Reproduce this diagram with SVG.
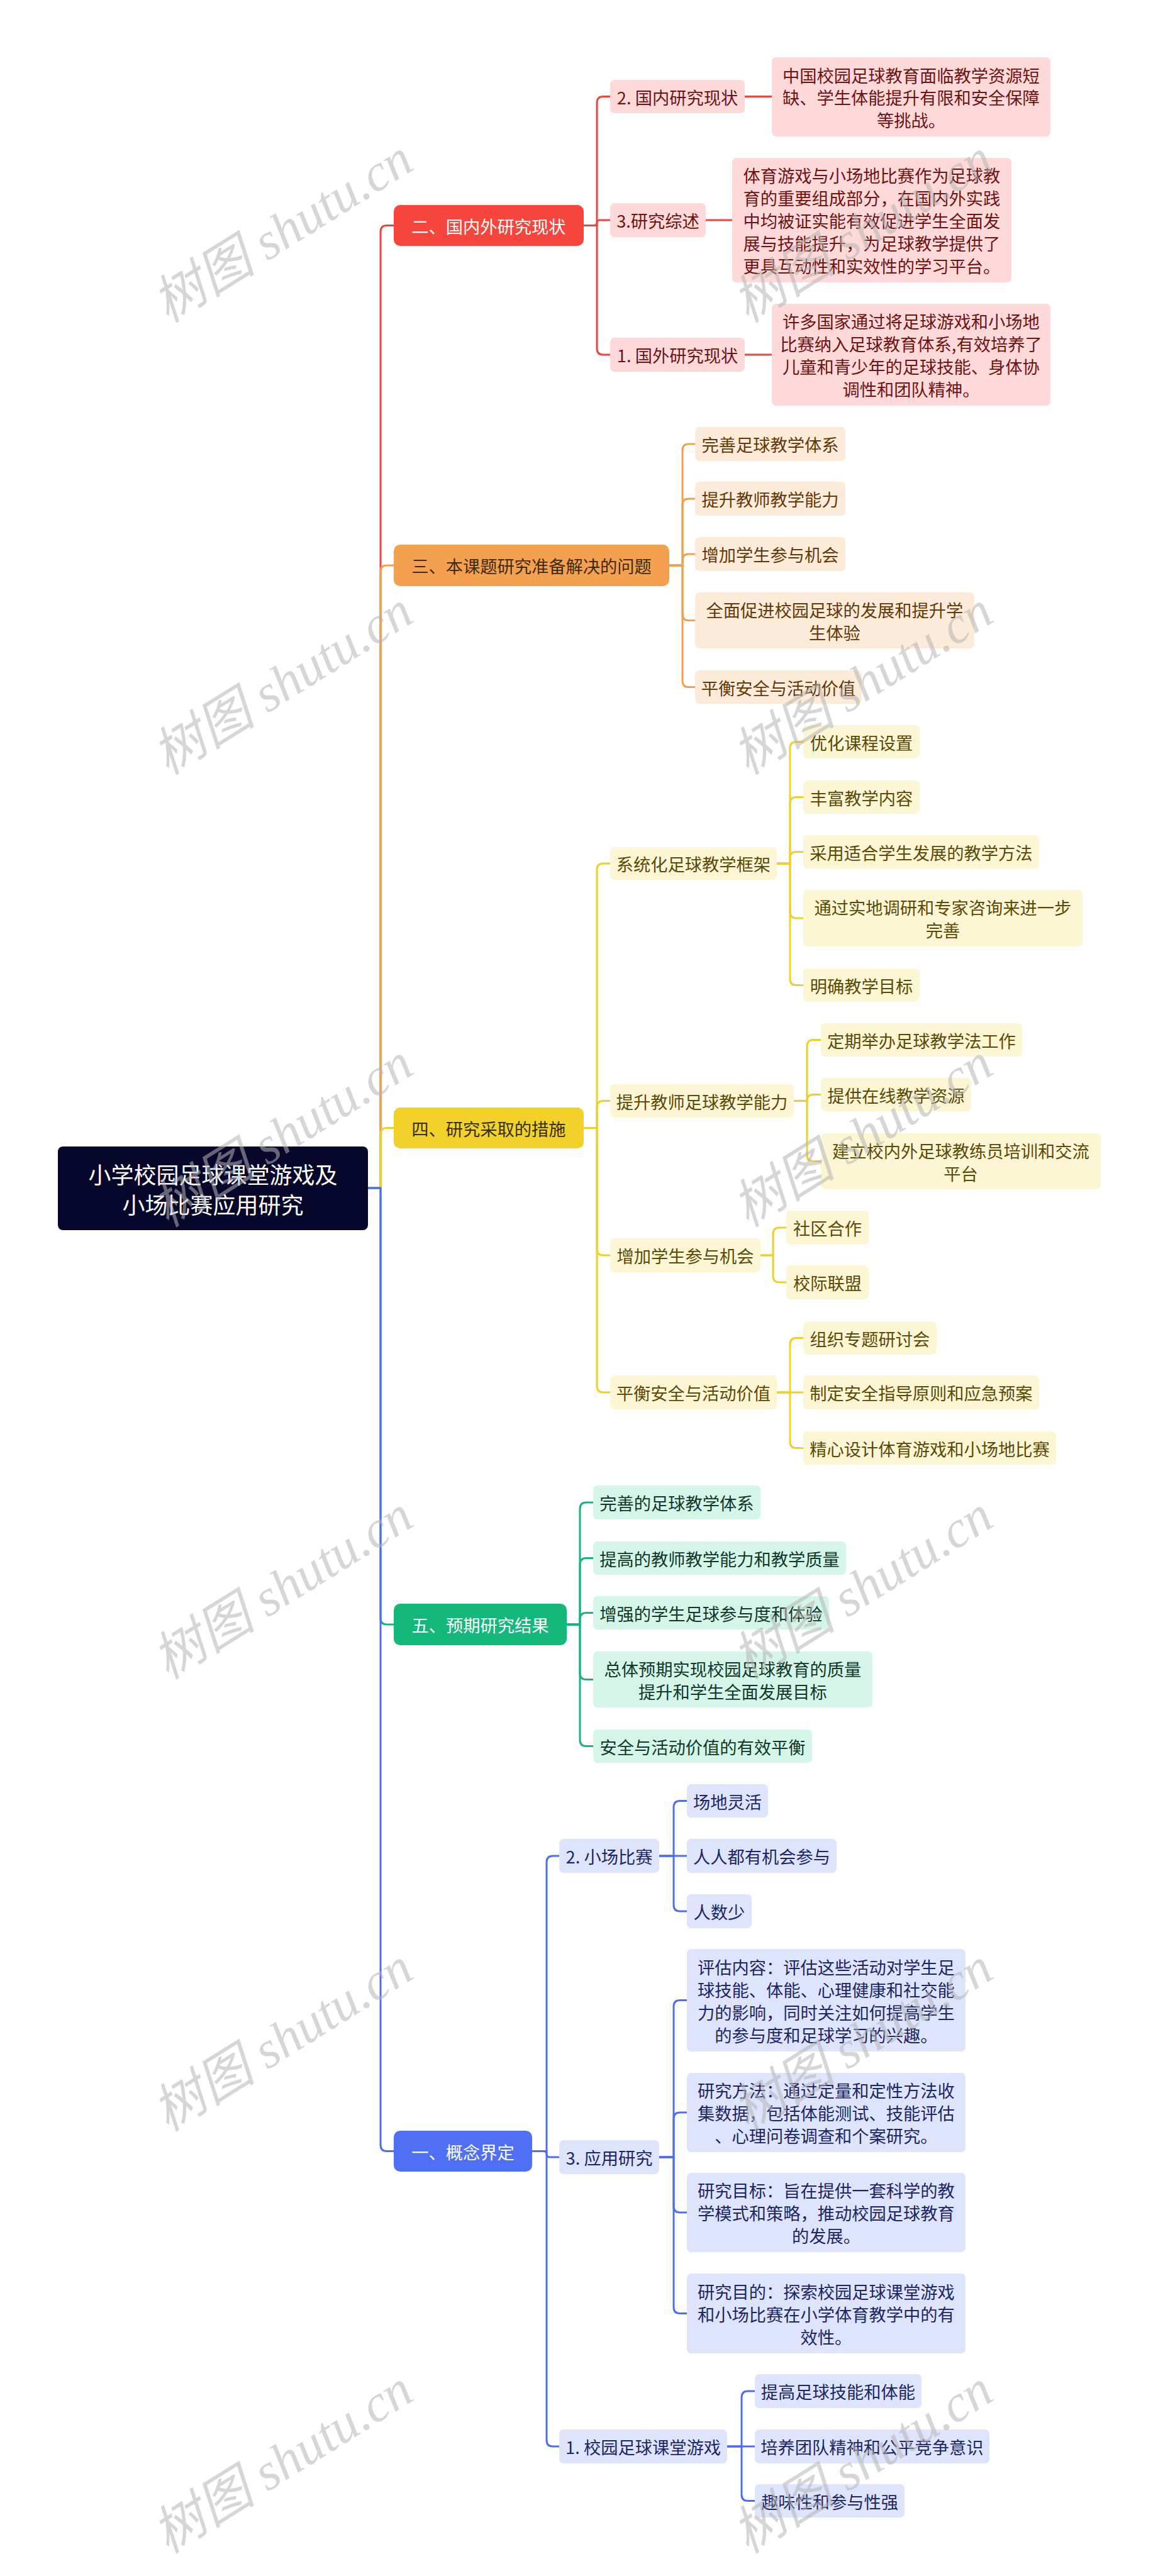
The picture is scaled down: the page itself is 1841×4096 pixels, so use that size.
<svg xmlns="http://www.w3.org/2000/svg" width="1841" height="4096" viewBox="0 0 1841 4096">
<style>
text,tspan{font-family:"Noto Sans CJK SC","Liberation Sans",sans-serif;font-size:27.25px;text-anchor:middle;dominant-baseline:central}
.root rect{fill:#07072b}.root text,.root tspan{fill:#fff;font-size:36px}
.mr rect{fill:#f5453d}.mr text{fill:#fff}
.cr rect{fill:#fdd9d9}.cr text{fill:#6e1212}
.mo rect{fill:#f4a14f}.mo text{fill:#3d2a12}
.co rect{fill:#fdebda}.co text{fill:#633808}
.my rect{fill:#f2d12b}.my text{fill:#36300a}
.cy rect{fill:#fdf6d5}.cy text{fill:#594a06}
.mg rect{fill:#14b87b}.mg text{fill:#fff}
.cg rect{fill:#d4f5e7}.cg text{fill:#10372a}
.mb rect{fill:#4f70f4}.mb text{fill:#fff}
.cb rect{fill:#dde4fc}.cb text{fill:#1c2566}
#connectors path{fill:none;stroke-width:3;stroke-linecap:round;stroke-linejoin:round}
.lr{stroke:#f0453f}.lo{stroke:#f2a04f}.ly{stroke:#f0cf2a}.lg{stroke:#17b57b}.lb{stroke:#4e6ef2}
.wm{font-family:"Liberation Serif","Noto Sans CJK SC",serif;font-style:italic;font-size:83px;fill:#b4b4b4;fill-opacity:0.55;text-anchor:middle;dominant-baseline:alphabetic}
</style>
<rect width="1841" height="4096" fill="#fff"/>
<g id="connectors">
<path class="lr" d="M585 1889 H605 V368.5 Q605 358.5 615 358.5 H626"/>
<path class="lo" d="M585 1889 H605 V909 Q605 899 615 899 H626"/>
<path class="ly" d="M585 1889 H605 V1803.5 Q605 1793.5 615 1793.5 H626"/>
<path class="lg" d="M585 1889 H605 V2573 Q605 2583 615 2583 H626"/>
<path class="lb" d="M585 1889 H605 V3410.5 Q605 3420.5 615 3420.5 H626"/>
<path class="lr" d="M928 358.5 H949 V163.5 Q949 153.5 959 153.5 H970"/>
<path class="lr" d="M928 358.5 H944 Q949 358.5 949 354 Q949 350 954 350 H970"/>
<path class="lr" d="M928 358.5 H949 V554 Q949 564 959 564 H970"/>
<path class="lr" d="M1184 153.5 H1227"/>
<path class="lr" d="M1122 350 H1164"/>
<path class="lr" d="M1184 564 H1227"/>
<path class="lo" d="M1064 899 H1085 V716 Q1085 706 1095 706 H1105"/>
<path class="lo" d="M1064 899 H1085 V803 Q1085 793 1095 793 H1105"/>
<path class="lo" d="M1064 899 H1085 V891 Q1085 881 1095 881 H1105"/>
<path class="lo" d="M1064 899 H1085 V976.5 Q1085 986.5 1095 986.5 H1105"/>
<path class="lo" d="M1064 899 H1085 V1082.5 Q1085 1092.5 1095 1092.5 H1105"/>
<path class="ly" d="M928 1793.5 H949 V1383 Q949 1373 959 1373 H970"/>
<path class="ly" d="M928 1793.5 H949 V1760.5 Q949 1750.5 959 1750.5 H970"/>
<path class="ly" d="M928 1793.5 H949 V1986 Q949 1996 959 1996 H970"/>
<path class="ly" d="M928 1793.5 H949 V2204 Q949 2214 959 2214 H970"/>
<path class="ly" d="M1235 1373 H1256 V1189.5 Q1256 1179.5 1266 1179.5 H1277"/>
<path class="ly" d="M1235 1373 H1256 V1277.5 Q1256 1267.5 1266 1267.5 H1277"/>
<path class="ly" d="M1235 1373 H1256 V1364.5 Q1256 1354.5 1266 1354.5 H1277"/>
<path class="ly" d="M1235 1373 H1256 V1450 Q1256 1460 1266 1460 H1277"/>
<path class="ly" d="M1235 1373 H1256 V1556.5 Q1256 1566.5 1266 1566.5 H1277"/>
<path class="ly" d="M1262 1750.5 H1283 V1663.5 Q1283 1653.5 1293 1653.5 H1305"/>
<path class="ly" d="M1262 1750.5 H1283 Q1283 1740.5 1293 1740.5 H1305"/>
<path class="ly" d="M1262 1750.5 H1283 V1836.5 Q1283 1846.5 1293 1846.5 H1305"/>
<path class="ly" d="M1209 1996 H1229 V1962 Q1229 1952 1239 1952 H1250"/>
<path class="ly" d="M1209 1996 H1229 V2029 Q1229 2039 1239 2039 H1250"/>
<path class="ly" d="M1235 2214 H1256 V2137.5 Q1256 2127.5 1266 2127.5 H1277"/>
<path class="ly" d="M1235 2214 H1277"/>
<path class="ly" d="M1235 2214 H1256 V2292.5 Q1256 2302.5 1266 2302.5 H1277"/>
<path class="lg" d="M901 2583 H922 V2399 Q922 2389 932 2389 H943"/>
<path class="lg" d="M901 2583 H922 V2487.5 Q922 2477.5 932 2477.5 H943"/>
<path class="lg" d="M901 2583 H922 V2574.5 Q922 2564.5 932 2564.5 H943"/>
<path class="lg" d="M901 2583 H922 V2660.5 Q922 2670.5 932 2670.5 H943"/>
<path class="lg" d="M901 2583 H922 V2766.5 Q922 2776.5 932 2776.5 H943"/>
<path class="lb" d="M846 3420.5 H869 V2961 Q869 2951 879 2951 H889"/>
<path class="lb" d="M846 3420.5 H864 Q869 3420.5 869 3425 Q869 3430 874 3430 H889"/>
<path class="lb" d="M846 3420.5 H869 V3880 Q869 3890 879 3890 H889"/>
<path class="lb" d="M1048 2951 H1071 V2873.5 Q1071 2863.5 1081 2863.5 H1092"/>
<path class="lb" d="M1048 2951 H1092"/>
<path class="lb" d="M1048 2951 H1071 V3029 Q1071 3039 1081 3039 H1092"/>
<path class="lb" d="M1048 3430 H1071 V3190.5 Q1071 3180.5 1081 3180.5 H1092"/>
<path class="lb" d="M1048 3430 H1071 V3369 Q1071 3359 1081 3359 H1092"/>
<path class="lb" d="M1048 3430 H1071 V3508 Q1071 3518 1081 3518 H1092"/>
<path class="lb" d="M1048 3430 H1071 V3668.5 Q1071 3678.5 1081 3678.5 H1092"/>
<path class="lb" d="M1156 3890 H1179 V3812 Q1179 3802 1189 3802 H1200"/>
<path class="lb" d="M1156 3890 H1200"/>
<path class="lb" d="M1156 3890 H1179 V3966.5 Q1179 3976.5 1189 3976.5 H1200"/>
</g>
<g id="root" class="root"><rect x="92" y="1823" width="493" height="133" rx="8"/><text><tspan x="338.5" y="1866">小学校园足球课堂游戏及</tspan><tspan x="338.5" y="1914">小场比赛应用研究</tspan></text></g>
<g id="n2" class="mr"><rect x="626" y="326" width="302" height="65" rx="10"/><text x="777" y="358.5">二、国内外研究现状</text></g>
<g id="n2-2" class="cr"><rect x="970" y="127" width="214" height="53" rx="7"/><text x="1077" y="153.5">2. 国内研究现状</text></g>
<g id="n2-2a" class="cr"><rect x="1227" y="91" width="443" height="126" rx="7"/><text><tspan x="1448.5" y="118.5">中国校园足球教育面临教学资源短</tspan><tspan x="1448.5" y="154">缺、学生体能提升有限和安全保障</tspan><tspan x="1448.5" y="189.5">等挑战。</tspan></text></g>
<g id="n2-3" class="cr"><rect x="970" y="323" width="152" height="54" rx="7"/><text x="1046" y="350">3.研究综述</text></g>
<g id="n2-3a" class="cr"><rect x="1164" y="251" width="444" height="198" rx="7"/><text><tspan x="1386" y="278">体育游戏与小场地比赛作为足球教</tspan><tspan x="1386" y="314">育的重要组成部分，在国内外实践</tspan><tspan x="1386" y="350">中均被证实能有效促进学生全面发</tspan><tspan x="1386" y="386">展与技能提升，为足球教学提供了</tspan><tspan x="1386" y="422">更具互动性和实效性的学习平台。</tspan></text></g>
<g id="n2-1" class="cr"><rect x="970" y="537" width="214" height="54" rx="7"/><text x="1077" y="564">1. 国外研究现状</text></g>
<g id="n2-1a" class="cr"><rect x="1227" y="483" width="443" height="162" rx="7"/><text><tspan x="1448.5" y="510">许多国家通过将足球游戏和小场地</tspan><tspan x="1448.5" y="546">比赛纳入足球教育体系,有效培养了</tspan><tspan x="1448.5" y="582">儿童和青少年的足球技能、身体协</tspan><tspan x="1448.5" y="618">调性和团队精神。</tspan></text></g>
<g id="n3" class="mo"><rect x="626" y="866" width="438" height="66" rx="10"/><text x="845" y="899">三、本课题研究准备解决的问题</text></g>
<g id="n3-1" class="co"><rect x="1105" y="679" width="239" height="54" rx="7"/><text x="1224.5" y="706">完善足球教学体系</text></g>
<g id="n3-2" class="co"><rect x="1105" y="766" width="239" height="54" rx="7"/><text x="1224.5" y="793">提升教师教学能力</text></g>
<g id="n3-3" class="co"><rect x="1105" y="854" width="239" height="54" rx="7"/><text x="1224.5" y="881">增加学生参与机会</text></g>
<g id="n3-4" class="co"><rect x="1105" y="942" width="444" height="89" rx="7"/><text><tspan x="1327" y="968.5">全面促进校园足球的发展和提升学</tspan><tspan x="1327" y="1004.5">生体验</tspan></text></g>
<g id="n3-5" class="co"><rect x="1105" y="1066" width="265" height="53" rx="7"/><text x="1237.5" y="1092.5">平衡安全与活动价值</text></g>
<g id="n4" class="my"><rect x="626" y="1761" width="302" height="65" rx="10"/><text x="777" y="1793.5">四、研究采取的措施</text></g>
<g id="n4-1" class="cy"><rect x="970" y="1347" width="265" height="52" rx="7"/><text x="1102.5" y="1373">系统化足球教学框架</text></g>
<g id="n4-1a" class="cy"><rect x="1277" y="1153" width="185" height="53" rx="7"/><text x="1369.5" y="1179.5">优化课程设置</text></g>
<g id="n4-1b" class="cy"><rect x="1277" y="1241" width="185" height="53" rx="7"/><text x="1369.5" y="1267.5">丰富教学内容</text></g>
<g id="n4-1c" class="cy"><rect x="1277" y="1328" width="375" height="53" rx="7"/><text x="1464.5" y="1354.5">采用适合学生发展的教学方法</text></g>
<g id="n4-1d" class="cy"><rect x="1277" y="1415" width="444" height="90" rx="7"/><text><tspan x="1499" y="1442">通过实地调研和专家咨询来进一步</tspan><tspan x="1499" y="1478">完善</tspan></text></g>
<g id="n4-1e" class="cy"><rect x="1277" y="1540" width="185" height="53" rx="7"/><text x="1369.5" y="1566.5">明确教学目标</text></g>
<g id="n4-2" class="cy"><rect x="970" y="1724" width="292" height="53" rx="7"/><text x="1116" y="1750.5">提升教师足球教学能力</text></g>
<g id="n4-2a" class="cy"><rect x="1305" y="1627" width="320" height="53" rx="7"/><text x="1465" y="1653.5">定期举办足球教学法工作</text></g>
<g id="n4-2b" class="cy"><rect x="1305" y="1714" width="239" height="53" rx="7"/><text x="1424.5" y="1740.5">提供在线教学资源</text></g>
<g id="n4-2c" class="cy"><rect x="1305" y="1802" width="445" height="89" rx="7"/><text><tspan x="1527.5" y="1828.5">建立校内外足球教练员培训和交流</tspan><tspan x="1527.5" y="1864.5">平台</tspan></text></g>
<g id="n4-3" class="cy"><rect x="970" y="1969" width="239" height="54" rx="7"/><text x="1089.5" y="1996">增加学生参与机会</text></g>
<g id="n4-3a" class="cy"><rect x="1250" y="1925" width="131" height="54" rx="7"/><text x="1315.5" y="1952">社区合作</text></g>
<g id="n4-3b" class="cy"><rect x="1250" y="2012" width="131" height="54" rx="7"/><text x="1315.5" y="2039">校际联盟</text></g>
<g id="n4-4" class="cy"><rect x="970" y="2187" width="265" height="54" rx="7"/><text x="1102.5" y="2214">平衡安全与活动价值</text></g>
<g id="n4-4a" class="cy"><rect x="1277" y="2101" width="212" height="53" rx="7"/><text x="1383" y="2127.5">组织专题研讨会</text></g>
<g id="n4-4b" class="cy"><rect x="1277" y="2187" width="375" height="54" rx="7"/><text x="1464.5" y="2214">制定安全指导原则和应急预案</text></g>
<g id="n4-4c" class="cy"><rect x="1277" y="2276" width="402" height="53" rx="7"/><text x="1478" y="2302.5">精心设计体育游戏和小场地比赛</text></g>
<g id="n5" class="mg"><rect x="626" y="2550" width="275" height="66" rx="10"/><text x="763.5" y="2583">五、预期研究结果</text></g>
<g id="n5-1" class="cg"><rect x="943" y="2362" width="266" height="54" rx="7"/><text x="1076" y="2389">完善的足球教学体系</text></g>
<g id="n5-2" class="cg"><rect x="943" y="2451" width="402" height="53" rx="7"/><text x="1144" y="2477.5">提高的教师教学能力和教学质量</text></g>
<g id="n5-3" class="cg"><rect x="943" y="2538" width="375" height="53" rx="7"/><text x="1130.5" y="2564.5">增强的学生足球参与度和体验</text></g>
<g id="n5-4" class="cg"><rect x="943" y="2626" width="444" height="89" rx="7"/><text><tspan x="1165" y="2652.5">总体预期实现校园足球教育的质量</tspan><tspan x="1165" y="2688.5">提升和学生全面发展目标</tspan></text></g>
<g id="n5-5" class="cg"><rect x="943" y="2750" width="348" height="53" rx="7"/><text x="1117" y="2776.5">安全与活动价值的有效平衡</text></g>
<g id="n1" class="mb"><rect x="626" y="3388" width="220" height="65" rx="10"/><text x="736" y="3420.5">一、概念界定</text></g>
<g id="n1-2" class="cb"><rect x="889" y="2924" width="159" height="54" rx="7"/><text x="968.5" y="2951">2. 小场比赛</text></g>
<g id="n1-2a" class="cb"><rect x="1092" y="2837" width="129" height="53" rx="7"/><text x="1156.5" y="2863.5">场地灵活</text></g>
<g id="n1-2b" class="cb"><rect x="1092" y="2924" width="238" height="54" rx="7"/><text x="1211" y="2951">人人都有机会参与</text></g>
<g id="n1-2c" class="cb"><rect x="1092" y="3012" width="103" height="54" rx="7"/><text x="1143.5" y="3039">人数少</text></g>
<g id="n1-3" class="cb"><rect x="889" y="3403" width="159" height="54" rx="7"/><text x="968.5" y="3430">3. 应用研究</text></g>
<g id="n1-3a" class="cb"><rect x="1092" y="3099" width="443" height="163" rx="7"/><text><tspan x="1313.5" y="3126.5">评估内容：评估这些活动对学生足</tspan><tspan x="1313.5" y="3162.5">球技能、体能、心理健康和社交能</tspan><tspan x="1313.5" y="3198.5">力的影响，同时关注如何提高学生</tspan><tspan x="1313.5" y="3234.5">的参与度和足球学习的兴趣。</tspan></text></g>
<g id="n1-3b" class="cb"><rect x="1092" y="3296" width="443" height="126" rx="7"/><text><tspan x="1313.5" y="3323">研究方法：通过定量和定性方法收</tspan><tspan x="1313.5" y="3359">集数据，包括体能测试、技能评估</tspan><tspan x="1313.5" y="3395">、心理问卷调查和个案研究。</tspan></text></g>
<g id="n1-3c" class="cb"><rect x="1092" y="3455" width="443" height="126" rx="7"/><text><tspan x="1313.5" y="3482">研究目标：旨在提供一套科学的教</tspan><tspan x="1313.5" y="3518">学模式和策略，推动校园足球教育</tspan><tspan x="1313.5" y="3554">的发展。</tspan></text></g>
<g id="n1-3d" class="cb"><rect x="1092" y="3615" width="443" height="127" rx="7"/><text><tspan x="1313.5" y="3642.5">研究目的：探索校园足球课堂游戏</tspan><tspan x="1313.5" y="3678.5">和小场比赛在小学体育教学中的有</tspan><tspan x="1313.5" y="3714.5">效性。</tspan></text></g>
<g id="n1-1" class="cb"><rect x="889" y="3863" width="267" height="54" rx="7"/><text x="1022.5" y="3890">1. 校园足球课堂游戏</text></g>
<g id="n1-1a" class="cb"><rect x="1200" y="3775" width="265" height="54" rx="7"/><text x="1332.5" y="3802">提高足球技能和体能</text></g>
<g id="n1-1b" class="cb"><rect x="1200" y="3863" width="373" height="54" rx="7"/><text x="1386.5" y="3890">培养团队精神和公平竞争意识</text></g>
<g id="n1-1c" class="cb"><rect x="1200" y="3950" width="238" height="53" rx="7"/><text x="1319" y="3976.5">趣味性和参与性强</text></g>
<g id="watermarks">
<text class="wm" x="464" y="391" transform="rotate(-32 464 391)">树图 shutu.cn</text>
<text class="wm" x="1386" y="391" transform="rotate(-32 1386 391)">树图 shutu.cn</text>
<text class="wm" x="464" y="1110" transform="rotate(-32 464 1110)">树图 shutu.cn</text>
<text class="wm" x="1386" y="1110" transform="rotate(-32 1386 1110)">树图 shutu.cn</text>
<text class="wm" x="464" y="1829" transform="rotate(-32 464 1829)">树图 shutu.cn</text>
<text class="wm" x="1386" y="1829" transform="rotate(-32 1386 1829)">树图 shutu.cn</text>
<text class="wm" x="464" y="2548" transform="rotate(-32 464 2548)">树图 shutu.cn</text>
<text class="wm" x="1386" y="2548" transform="rotate(-32 1386 2548)">树图 shutu.cn</text>
<text class="wm" x="464" y="3267" transform="rotate(-32 464 3267)">树图 shutu.cn</text>
<text class="wm" x="1386" y="3267" transform="rotate(-32 1386 3267)">树图 shutu.cn</text>
<text class="wm" x="464" y="3938" transform="rotate(-32 464 3938)">树图 shutu.cn</text>
<text class="wm" x="1386" y="3938" transform="rotate(-32 1386 3938)">树图 shutu.cn</text>
</g>
</svg>
